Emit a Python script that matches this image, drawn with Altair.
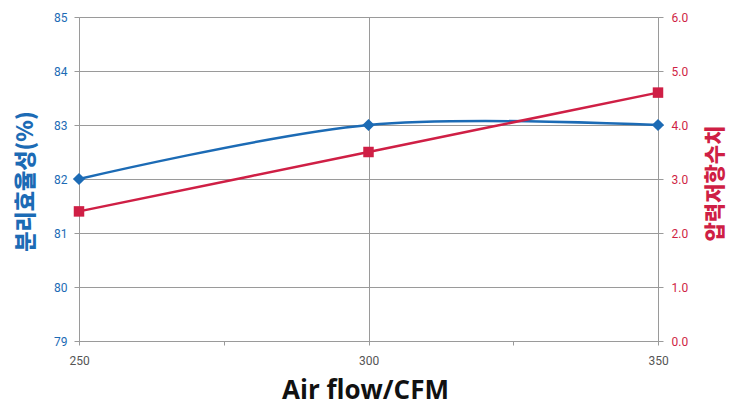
import altair as alt
import pandas as pd

airflow = [250, 300, 350]
efficiency = [82, 83, 83]
pressure = [2.4, 3.5, 4.6]

BLUE = "#1c6bb5"
RED = "#cf1f45"
GRID = "#9a9a9a"

df = pd.DataFrame({"airflow": airflow, "eff": efficiency, "pres": pressure})

x_enc = alt.X(
    "airflow:Q",
    scale=alt.Scale(domain=[250, 350], nice=False, zero=False),
    axis=alt.Axis(
        values=[250, 275, 300, 325, 350],
        labelExpr="datum.value % 50 === 0 ? datum.label : ''",
        gridOpacity={"condition": {"test": "datum.value % 50 === 0", "value": 1}, "value": 0},
        labelFlush=False,
        title="Air flow/CFM",
        titleFont="Open Sans",
        titleFontSize=26,
        titleFontWeight="bold",
        titleColor="#111111",
        titleX=286,
        titleY=57,
        titleAlign="center",
        titleBaseline="alphabetic",
        labelFont="Roboto",
        labelFontSize=12,
        labelColor="#555555",
        labelPadding=10,
        tickSize=4,
        tickColor=GRID,
        domainColor=GRID,
        gridColor=GRID,
    ),
)

base = alt.Chart(df)

blue_line = base.mark_line(color=BLUE, strokeWidth=2.5, interpolate="catmull-rom").encode(
    x=x_enc,
    y=alt.Y(
        "eff:Q",
        scale=alt.Scale(domain=[79, 85], nice=False, zero=False),
        axis=alt.Axis(
            orient="left",
            values=[79, 80, 81, 82, 83, 84, 85],
            format="d",
            title="분리효율성(%)",
            titleFont="Noto Sans CJK KR",
            titleFontSize=22,
            titleFontWeight=900,
            titleColor=BLUE,
            titleAngle=270,
            titleX=-54,
            titleY=164,
            titleAlign="center",
            titleBaseline="middle",
            labelFont="Roboto",
            labelFontSize=12,
            labelColor=BLUE,
            labelPadding=7,
            tickSize=5,
            tickColor=GRID,
            domainColor=GRID,
            gridColor=GRID,
        ),
    ),
)
blue_pts = base.mark_point(shape="diamond", filled=True, size=150, color=BLUE, opacity=1).encode(
    x=alt.X("airflow:Q"), y=alt.Y("eff:Q")
)

red_line = base.mark_line(color=RED, strokeWidth=2.5, interpolate="catmull-rom").encode(
    x=alt.X("airflow:Q"),
    y=alt.Y(
        "pres:Q",
        scale=alt.Scale(domain=[0, 6], nice=False),
        axis=alt.Axis(
            orient="right",
            values=[0, 1, 2, 3, 4, 5, 6],
            format=".1f",
            grid=False,
            title="압력저항수치",
            titleAngle=270,
            titleX=57,
            titleY=166,
            titleAlign="center",
            titleBaseline="middle",
            titleFont="Noto Sans CJK KR",
            titleFontSize=21,
            titleFontWeight=900,
            titleColor=RED,
            labelFont="Roboto",
            labelFontSize=12,
            labelColor=RED,
            labelPadding=8,
            tickSize=5,
            tickColor=GRID,
            domainColor=GRID,
        ),
    ),
)
red_pts = base.mark_square(size=110, color=RED, opacity=1).encode(
    x=alt.X("airflow:Q"), y=alt.Y("pres:Q")
)

left = alt.layer(blue_line, blue_pts)
right = alt.layer(red_line, red_pts)

chart = (
    alt.layer(left, right)
    .resolve_scale(y="independent")
    .properties(
        width=579,
        height=324,
        autosize=alt.AutoSizeParams(type="none"),
        padding={"left": 71, "top": 9, "right": 68, "bottom": 64},
        background="white",
    )
    .configure_view(stroke=None)
)

chart.save("out.html", embed_options={"renderer": "svg", "actions": False})
